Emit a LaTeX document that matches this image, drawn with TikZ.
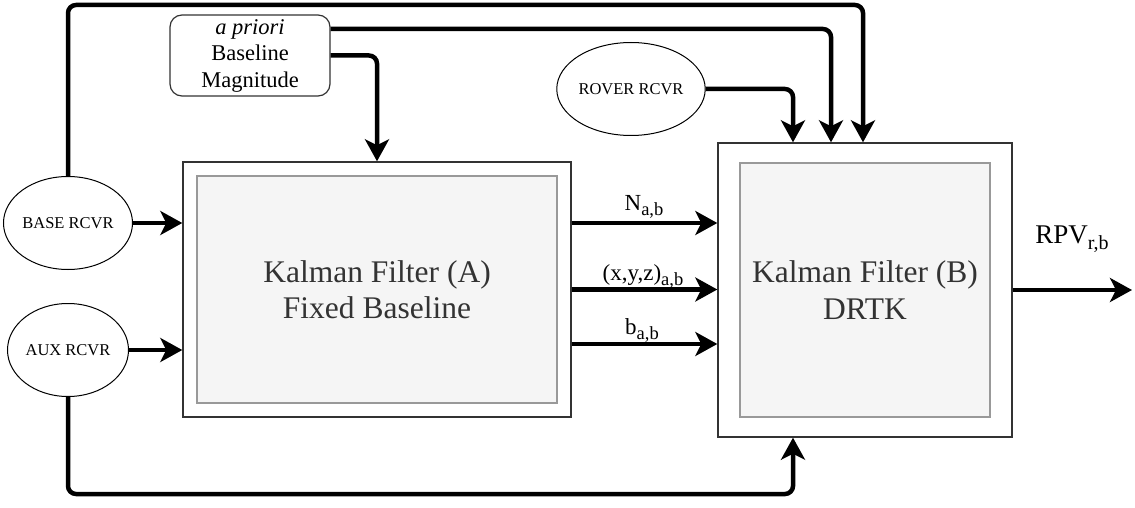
\documentclass[tikz,border=0pt]{standalone}
\usepackage{fontspec}
\setmainfont{Liberation Serif}
\usetikzlibrary{arrows.meta,shapes.geometric}
\definecolor{boxline}{HTML}{333333}
\definecolor{innerline}{HTML}{999999}
\definecolor{innerfill}{HTML}{F5F5F5}
\definecolor{txt}{HTML}{333333}
\newcommand\mysub[2]{\raisebox{-#2pt}{\fontsize{#1}{#1}\selectfont\,\kern-0.15em#2}}
\newcommand\lsub[3]{\raisebox{-#3pt}{\fontsize{#1}{#1}\selectfont #2}}
\tikzset{
  conn/.style={line width=4.5pt, rounded corners=8pt, -{Stealth[length=22pt,width=24pt,inset=6pt]}},
  rcvr/.style={ellipse, draw, line width=1pt, minimum width=121pt, minimum height=93pt, inner sep=0pt, font=\fontsize{16.5}{19}\selectfont},
  outerbox/.style={draw=boxline, line width=1.4pt, fill=white},
  innerbox/.style={draw=innerline, fill=innerfill, line width=1.3pt, align=center, text=txt, font=\fontsize{31.5}{36.5}\selectfont},
  lbl/.style={font=\fontsize{23}{26}\selectfont, anchor=base},
}
\begin{document}
\begin{tikzpicture}[x=1pt, y=-1pt]
\useasboundingbox (0,0) rectangle (1135,508);
% boxes
\node[outerbox, minimum width=388pt, minimum height=255pt] (A) at (377,289.5) {};
\node[innerbox, minimum width=360pt, minimum height=227pt] (Ain) at (377,289.5) {Kalman Filter (A)\\Fixed Baseline};
\node[outerbox, minimum width=294pt, minimum height=294pt] (B) at (865,290) {};
\node[innerbox, minimum width=250pt, minimum height=254pt] (Bin) at (865,290) {Kalman Filter (B)\\DRTK};
% receivers
\node[rcvr] (base) at (68,223) {BASE RCVR};
\node[rcvr] (aux) at (68,350) {AUX RCVR};
\node[rcvr] (rover) at (631,89) {ROVER RCVR};
\node[draw=boxline, line width=1.2pt, rounded corners=12pt, minimum width=160pt, minimum height=81pt, inner sep=2pt, align=center, font=\fontsize{22.5}{26.5}\selectfont] (pri) at (250,55.5) {\textit{a priori}\\Baseline\\Magnitude};
% helper coordinates
\coordinate (t1) at (863,5);
\coordinate (t2) at (831,29);
\coordinate (bot) at (68,494);
\coordinate (out) at (1132,290);
% connectors
\draw[conn] (base.east) -- (base.east -| A.west);
\draw[conn] (aux.east) -- (aux.east -| A.west);
\draw[conn] (base.north) |- (t1) -- (t1 |- B.north);
\draw[conn] (pri.east |- t2) -| (t2 |- B.north);
\draw[conn] (pri.east) -| (A.north);
\draw[conn] (rover.east) -| ([xshift=-72pt]B.north);
\draw[conn] (aux.south) -- (bot) -| ([xshift=-72pt]B.south);
\draw[conn] ([yshift=66.5pt]A.east) -- ([yshift=66.5pt]A.east -| B.west);
\draw[conn] (A.east) -- (A.east -| B.west);
\draw[conn] ([yshift=-54.5pt]A.east) -- ([yshift=-54.5pt]A.east -| B.west);
\draw[conn] (B.east) -- (out);
% labels
\node[lbl] (lN) at (644,210) {N\lsub{18.5}{a,b}{5}};
\node[lbl] (lxyz) at (643,280) {(x,y,z)\lsub{18.5}{a,b}{5}};
\node[lbl] (lb) at (642,334) {b\lsub{18.5}{a,b}{5}};
\node[lbl, font=\fontsize{27}{30}\selectfont] (lrpv) at (1072,243) {RPV\lsub{20}{r,b}{6}};
\end{tikzpicture}
\end{document}
